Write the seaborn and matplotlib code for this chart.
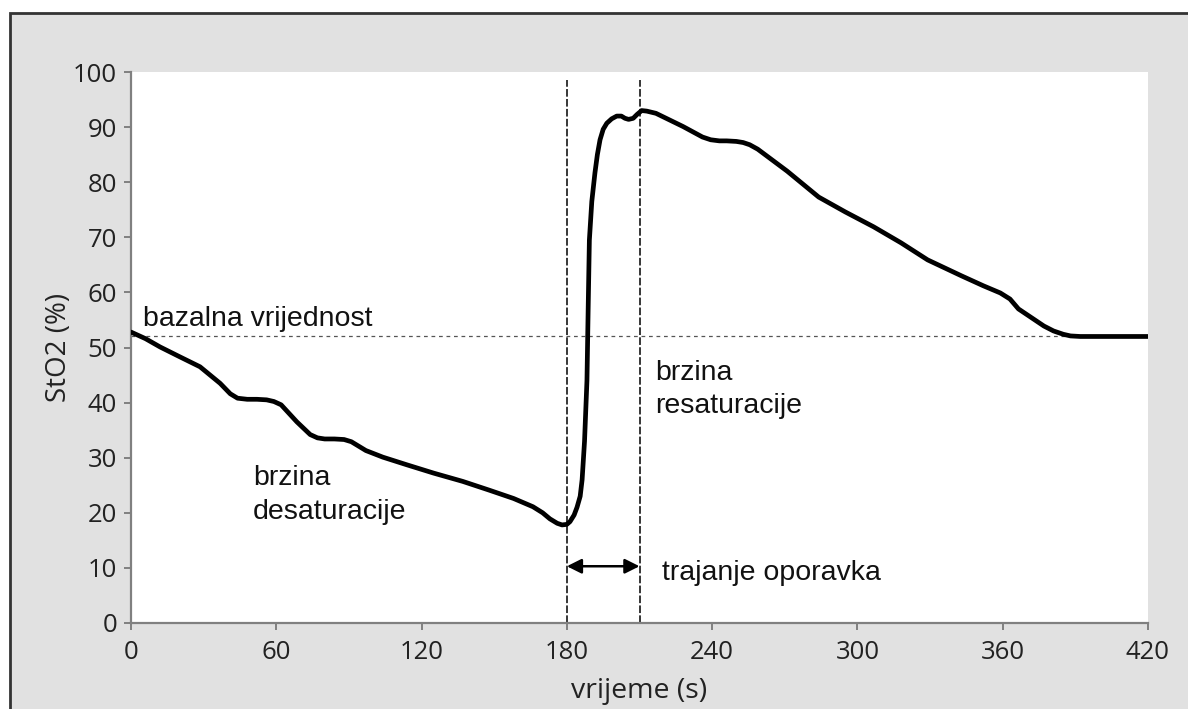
import matplotlib
matplotlib.use("Agg")
import matplotlib.pyplot as plt
from matplotlib.patches import Rectangle
import seaborn as sns
import pandas as pd

# ---- data ----
time_s = [0, 6, 12, 20.2, 28.5, 36.8, 41, 44, 48, 52,
          56, 59, 62, 68.5, 74, 77, 80, 84, 88, 91,
          97, 104, 114, 125, 137, 148, 158, 166, 170, 173,
          176, 178, 180, 181.3, 183, 184.2, 185.5, 186.3, 187.3, 188.3,
          188.8, 189.3, 190.3, 191.6, 192.6, 193.7, 195, 196.5, 198.5, 200.6,
          202.5, 204, 205.5, 207.4, 209, 210.9, 213, 216.8, 228, 236,
          239.4, 243, 246, 250, 252.8, 255.5, 258.8, 271, 284, 295,
          306.7, 318, 329, 343, 352, 359, 363, 366.5, 372.6, 377,
          381, 385, 388, 392, 400, 420]
sto2 = [52.8, 51.6, 50.1, 48.3, 46.5, 43.5, 41.6, 40.8, 40.6, 40.6,
        40.5, 40.2, 39.6, 36.5, 34.2, 33.6, 33.4, 33.4, 33.3, 32.9,
        31.3, 30.1, 28.7, 27.2, 25.7, 24.1, 22.6, 21.1, 20.0, 18.9,
        18.1, 17.8, 17.9, 18.4, 19.6, 21.0, 23.0, 26.0, 33.0, 44.0,
        57.0, 69.5, 76.5, 81.7, 85.0, 87.7, 89.6, 90.7, 91.5, 92.0,
        92.0, 91.6, 91.4, 91.6, 92.3, 93.0, 92.9, 92.5, 90.1, 88.2,
        87.7, 87.5, 87.5, 87.4, 87.2, 86.8, 86.0, 82.0, 77.3, 74.6,
        71.9, 69.0, 65.9, 63.0, 61.2, 59.9, 58.8, 57.0, 55.2, 53.9,
        53.0, 52.4, 52.1, 52.0, 52.0, 52.0]
baseline = 52
t_min = 180
t_end = 210
x_ticks = [0, 60, 120, 180, 240, 300, 360, 420]
y_ticks = [0, 10, 20, 30, 40, 50, 60, 70, 80, 90, 100]

df = pd.DataFrame({"vrijeme": time_s, "StO2": sto2})

sns.set_theme(style="white")
plt.rcParams["font.family"] = ["Open Sans", "DejaVu Sans"]

fig = plt.figure(figsize=(11.88, 7.09), dpi=100)
fig.patch.set_facecolor("white")
# grey panel with dark border (top and left visible)
fig.patches.append(Rectangle((10 / 1188, -0.05), 1.1, 0.05 + 1 - 13 / 709,
                             transform=fig.transFigure, facecolor="#e1e1e1",
                             edgecolor="#333333", linewidth=2, zorder=-10))

ax = fig.add_axes([131 / 1188, 86 / 709, (1148 - 131) / 1188, (623 - 72) / 709])
ax.set_facecolor("white")

ax.plot([0, 420], [baseline, baseline], color="#555555", lw=0.9,
        dashes=(3, 3), zorder=1)
for xv in (t_min, t_end):
    ax.plot([xv, xv], [0, 98.5], color="black", lw=1.1, dashes=(5, 1.5), zorder=1)

sns.lineplot(data=df, x="vrijeme", y="StO2", ax=ax, color="black", lw=3.4,
             estimator=None, sort=False, zorder=3)
for ln in ax.lines[-1:]:
    ln.set_solid_joinstyle("round")
    ln.set_solid_capstyle("round")

ax.annotate("", xy=(t_min, 10.3), xytext=(t_end, 10.3),
            arrowprops=dict(arrowstyle="<|-|>", color="black", lw=1.8,
                            mutation_scale=22, shrinkA=0, shrinkB=0))

ann_font = ["Liberation Sans", "DejaVu Sans"]
ax.text(5, 55.2, "bazalna vrijednost", fontsize=20.5, family=ann_font,
        va="center", ha="left", color="#111111")
ax.text(50.4, 23.3, "brzina\ndesaturacije", fontsize=20.5, family=ann_font,
        va="center", ha="left", color="#111111", linespacing=1.4)
ax.text(216.4, 42.3, "brzina\nresaturacije", fontsize=20.5, family=ann_font,
        va="center", ha="left", color="#111111", linespacing=1.35)
ax.text(219.3, 9.0, "trajanje oporavka", fontsize=20.5, family=ann_font,
        va="center", ha="left", color="#111111")

ax.set_xlim(0, 420)
ax.set_ylim(0, 100)
ax.set_xticks(x_ticks)
ax.set_yticks(y_ticks)
ax.set_xticklabels([str(v) for v in x_ticks])
ax.set_yticklabels([str(v) for v in y_ticks])
ax.set_xlabel("vrijeme (s)", fontsize=20.5, color="#222222", labelpad=9)
ax.set_ylabel("StO2 (%)", fontsize=20, color="#222222", labelpad=0)

for side in ("top", "right"):
    ax.spines[side].set_visible(False)
for side in ("left", "bottom"):
    ax.spines[side].set_color("#808080")
    ax.spines[side].set_linewidth(1.6)
ax.tick_params(axis="both", direction="out", length=5, width=1.4,
               color="#808080", labelsize=18.5, labelcolor="#222222",
               bottom=True, left=True)
ax.tick_params(axis="y", pad=5)
ax.tick_params(axis="x", pad=7)

fig.savefig("out.png", dpi=100)
